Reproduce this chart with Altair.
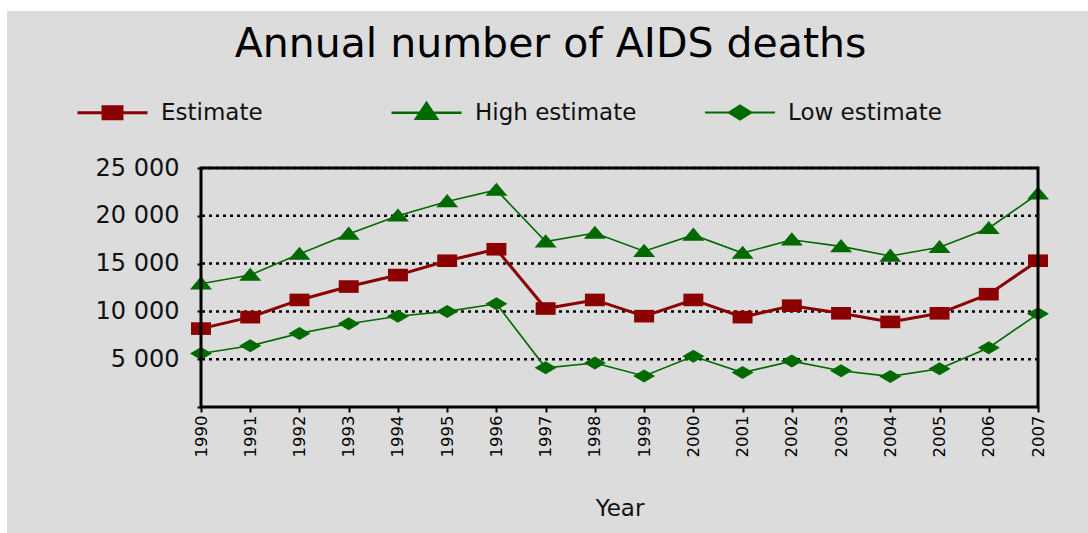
import altair as alt
import pandas as pd

# ---- data ----
years = list(range(1990, 2008))
estimate = [8200, 9400, 11200, 12600, 13800, 15300, 16500, 10300, 11200, 9500,
            11200, 9400, 10600, 9800, 8900, 9800, 11800, 15300]
high_estimate = [12900, 13800, 16000, 18100, 20000, 21500, 22700, 17300, 18200, 16300,
                 18000, 16100, 17500, 16800, 15800, 16700, 18700, 22300]
low_estimate = [5600, 6400, 7700, 8700, 9500, 10000, 10800, 4100, 4600, 3250,
                5300, 3600, 4800, 3800, 3200, 4000, 6200, 9750]
series_names = ["Estimate", "High estimate", "Low estimate"]
y_ticks = [0, 5000, 10000, 15000, 20000, 25000]

# ---- styling ----
RED = "#8b0000"
GREEN = "#006a00"
BG = "#dcdcdc"
FONT = "DejaVu Sans"
W, H = 837, 239

df = pd.DataFrame({
    "year": years * 3,
    "value": estimate + high_estimate + low_estimate,
    "series": [s for s in series_names for _ in years],
})
grid_df = pd.DataFrame({"value": y_ticks[1:]})

x_enc = alt.X(
    "year:O",
    scale=alt.Scale(type="point", padding=0),
    axis=alt.Axis(
        title="Year", labelAngle=270, labelFont=FONT, labelFontSize=16.5, labelColor="black",
        labelPadding=3, tickSize=5, tickWidth=2, tickColor="black", domain=False, grid=False,
        titleFont=FONT, titleFontSize=23, titleFontWeight="normal", titleColor="#111",
        titlePadding=41, zindex=1,
    ),
)
y_enc = alt.Y(
    "value:Q",
    scale=alt.Scale(domain=[0, 25000], nice=False, zero=True),
    axis=alt.Axis(
        title=None, values=y_ticks,
        labelExpr="datum.value == 0 ? '' : replace(format(datum.value, ','), ',', ' ')",
        labelFont=FONT, labelFontSize=24, labelColor="#111", labelPadding=18,
        tickSize=4, tickWidth=2, tickColor="black", domain=False, grid=False, zindex=1,
    ),
)

# background panel (leaves a thin white strip at top/left as in the picture)
bg = alt.Chart(alt.Data(values=[{}])).mark_rect(color=BG).encode(
    x=alt.value(-194), x2=alt.value(W + 60), y=alt.value(-157), y2=alt.value(H + 130)
)

grid = alt.Chart(grid_df).mark_rule(
    color="black", strokeWidth=2.5, strokeDash=[3, 4]
).encode(y=y_enc)

point_paths = {
    "Estimate": "M-0.95,-0.6H0.95V0.6H-0.95Z",
    "High estimate": "M0,-0.7L1.05,0.55H-1.05Z",
    "Low estimate": "M-1.05,0L0,-0.62L1.05,0L0,0.62Z",
}
line_colors = {"Estimate": RED, "High estimate": GREEN, "Low estimate": GREEN}
line_widths = {"Estimate": 3, "High estimate": 1.6, "Low estimate": 1.6}

layers = [bg, grid]
for name in series_names:
    base = alt.Chart(df).transform_filter(alt.datum.series == name)
    layers.append(
        base.mark_line(color=line_colors[name], strokeWidth=line_widths[name]).encode(x=x_enc, y=y_enc)
    )
for name in series_names:
    base = alt.Chart(df).transform_filter(alt.datum.series == name)
    layers.append(
        base.mark_point(shape=point_paths[name], size=441, filled=True, opacity=1,
                        color=line_colors[name]).encode(x=x_enc, y=y_enc)
    )

# legend (symbols are line + marker), from an empty layer with explicit scale domains
legend_paths = [
    "M-1,0H1M-0.27,-0.17H0.27V0.17H-0.27Z",
    "M-1,0H1M0,-0.28L0.3,0.17H-0.3Z",
    "M-1,0H1M-0.32,0L0,-0.2L0.32,0L0,0.2Z",
]
leg = alt.Legend(
    title=None, orient="none", legendX=-125, legendY=-92, direction="horizontal",
    symbolSize=4900, labelFont=FONT, labelFontSize=23, labelColor="#111", labelOffset=12,
    labelLimit=400, columnPadding=63, gridAlign="all", padding=0,
)
legend_layer = alt.Chart(df).transform_filter("false").mark_point(filled=True, opacity=1).encode(
    x=x_enc, y=y_enc,
    fill=alt.Fill("series:N", scale=alt.Scale(domain=series_names, range=[RED, GREEN, GREEN]), legend=leg),
    stroke=alt.Stroke("series:N", scale=alt.Scale(domain=series_names, range=[RED, GREEN, GREEN]), legend=leg),
    shape=alt.Shape("series:N", scale=alt.Scale(domain=series_names, range=legend_paths), legend=leg),
    strokeWidth=alt.StrokeWidth("series:N", scale=alt.Scale(domain=series_names, range=[3, 2, 2]), legend=leg),
)
layers.append(legend_layer)

frame = alt.Chart(alt.Data(values=[{}])).mark_rect(
    fillOpacity=0, stroke="black", strokeWidth=3
).encode(x=alt.value(0), x2=alt.value(W), y=alt.value(0), y2=alt.value(H))
layers.append(frame)

chart = alt.layer(*layers).properties(
    width=W, height=H,
    title=alt.TitleParams(
        "Annual number of AIDS deaths", font=FONT, fontSize=41, fontWeight="normal",
        color="black", anchor="middle", frame="group", offset=0, dx=-69, dy=87,
        baseline="alphabetic",
    ),
    padding={"left": 201, "top": 168, "right": 50, "bottom": 126},
    autosize="none",
    background="white",
).configure_view(stroke=None)

chart.save("out.html", embed_options={"renderer": "svg", "actions": False})
